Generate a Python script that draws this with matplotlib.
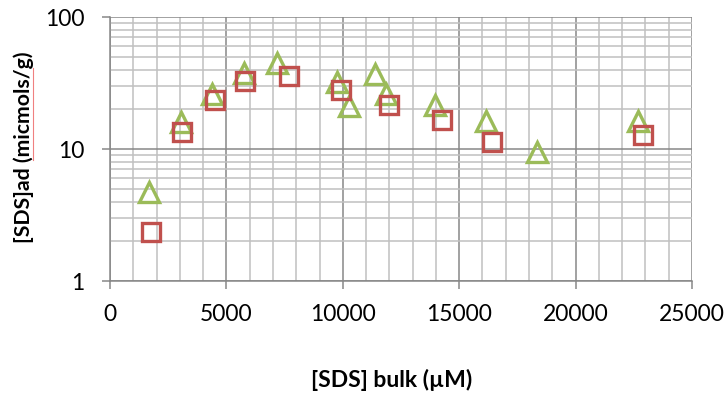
import matplotlib
matplotlib.use("Agg")
import matplotlib.pyplot as plt
from matplotlib.lines import Line2D
from matplotlib.ticker import FixedLocator, NullFormatter

# SDS adsorption isotherm, two series
bulk_a = [1680, 3050, 4380, 5760, 7170, 9750, 10270, 11380, 11850, 13960, 16150, 18340, 22680]
ads_a = [4.75, 16.0, 25.9, 37.9, 45.1, 31.9, 21.1, 37.3, 25.9, 21.4, 16.2, 9.5, 16.2]

bulk_b = [1760, 3090, 4510, 5800, 7690, 9920, 11990, 14260, 16400, 22890]
ads_b = [2.37, 13.4, 23.4, 33.0, 36.0, 27.8, 21.4, 16.5, 11.3, 12.7]

x_ticks = [0, 5000, 10000, 15000, 20000, 25000]
y_ticks = [1, 10, 100]

plt.rcParams['font.family'] = ['Lato', 'DejaVu Sans']

W, H = 727, 400
fig = plt.figure(figsize=(W / 100, H / 100), dpi=100)
ax = fig.add_axes([110 / W, 1 - 281 / H, 582 / W, 264 / H])

ax.set_yscale('log')
ax.set_xlim(0, 25000)
ax.set_ylim(1, 100)

ax.xaxis.set_major_locator(FixedLocator(x_ticks))
ax.xaxis.set_minor_locator(FixedLocator([v for v in range(0, 25001, 1000) if v % 5000]))
ax.yaxis.set_major_locator(FixedLocator(y_ticks))
ax.yaxis.set_minor_locator(FixedLocator([m * d for d in (1, 10) for m in range(2, 10)]))
ax.yaxis.set_minor_formatter(NullFormatter())
ax.set_yticklabels([str(v) for v in y_ticks])
ax.set_xticklabels([str(v) for v in x_ticks])

ax.grid(which='minor', color='#c0c0c0', linewidth=1.1)
ax.grid(which='major', color='#878787', linewidth=1.1)
ax.set_axisbelow(True)

for s in ('top', 'right'):
    ax.spines[s].set_visible(False)
for s in ('left', 'bottom'):
    ax.spines[s].set_color('#878787')
    ax.spines[s].set_linewidth(1.1)

ax.tick_params(axis='both', which='major', length=5.5, width=1.1, color='#878787',
               labelsize=16.5, labelcolor='black')
ax.tick_params(axis='x', which='major', pad=11)
ax.tick_params(axis='y', which='major', pad=13)
ax.tick_params(axis='both', which='minor', length=0)

ax.plot(bulk_a, ads_a, linestyle='none', marker='^', markersize=14,
        markerfacecolor='none', markeredgecolor='#9bbb59', markeredgewidth=2.4,
        clip_on=False, zorder=3)
ax.plot(bulk_b, ads_b, linestyle='none', marker='s', markersize=12.5,
        markerfacecolor='none', markeredgecolor='#c0504d', markeredgewidth=2.4,
        clip_on=False, zorder=4)

fig.text(392 / W, 1 - 380 / H, '[SDS] bulk (µM)', fontsize=16.5, fontweight='bold',
         ha='center', va='center')
fig.text(24 / W, 1 - 147 / H, '[SDS]ad (micmols/g)', fontsize=15.3, fontweight='bold',
         ha='center', va='center', rotation=90)

# spell-check underline beside the y label
fig.add_artist(Line2D([33 / W, 33 / W], [1 - 68 / H, 1 - 160 / H],
                      color='#f08080', linewidth=0.8))

fig.savefig('out.png', dpi=100, facecolor='white')
